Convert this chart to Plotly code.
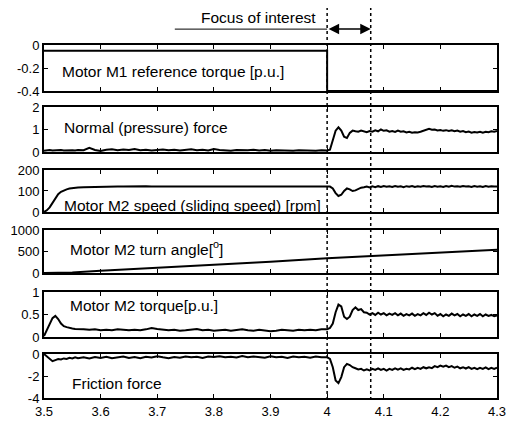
import numpy as np
import plotly.graph_objects as go
from plotly.subplots import make_subplots

# ---- time grid pieces (s) ----
t_a = np.round(np.arange(3.500, 3.5551, 0.005), 3)   # 12 pts
t_b = np.round(np.arange(3.56, 3.9951, 0.01), 3)     # 44 pts
t_c = np.round(np.arange(4.000, 4.3001, 0.005), 3)   # 61 pts
t = np.concatenate([t_a, t_b, t_c])

# ---- Motor M1 reference torque [p.u.] ----
t_ref = [3.5, 4.0, 4.0, 4.3]
ref_torque = [-0.05, -0.05, -0.4, -0.4]

# ---- Normal (pressure) force ----
force_a = [0.06, 0.08, 0.09, 0.07, 0.08, 0.1, 0.09, 0.07, 0.08, 0.1, 0.08, 0.07]
force_b = [0.09, 0.08, 0.19, 0.09, 0.05, 0.1, 0.12, 0.08, 0.11, 0.09,
           0.13, 0.08, 0.1, 0.07, 0.09, 0.11, 0.08, 0.1, 0.07, 0.09,
           0.12, 0.08, 0.1, 0.07, 0.13, 0.09, 0.08, 0.06, 0.09, 0.07,
           0.08, 0.1, 0.07, 0.09, 0.06, 0.08, 0.07, 0.09, 0.06, 0.08,
           0.07, 0.09, 0.06, 0.08]
force_c = [0.07, 0.1, 0.55, 0.95, 1.1, 0.95, 0.68, 0.62, 0.85, 0.95,
           0.92, 0.9, 0.95, 0.9, 0.88, 0.93, 0.9, 0.96, 0.92, 1.0,
           0.94, 0.96, 0.9, 0.93, 0.89, 0.95, 0.9, 0.92, 0.87, 0.9,
           0.86, 0.88, 0.87, 0.9, 0.95, 0.98, 1.03, 0.99, 1.0, 0.96,
           0.98, 0.94, 0.97, 0.93, 0.96, 0.92, 0.95, 0.9, 0.93, 0.88,
           0.91, 0.86, 0.89, 0.87, 0.9, 0.86, 0.9, 0.88, 0.92, 0.9,
           0.93]

# ---- Motor M2 speed [rpm] ----
speed_a = [0, 8, 22, 45, 68, 85, 96, 103, 108, 112, 114, 116]
speed_b = [117, 118, 119, 120, 120, 121, 121, 122, 121, 122,
           122, 121, 123, 122, 122, 123, 122, 121, 123, 122,
           122, 123, 122, 121, 123, 122, 122, 123, 121, 122,
           123, 122, 121, 123, 122, 122, 121, 123, 122, 122,
           121, 123, 122, 122]
speed_c = [122, 121, 112, 90, 76, 82, 100, 112, 108, 100,
           103, 110, 116, 118, 121, 117, 122, 118, 123, 119,
           124, 120, 123, 119, 124, 120, 122, 118, 123, 120,
           124, 119, 122, 120, 124, 121, 123, 119, 124, 120,
           122, 119, 124, 120, 125, 121, 123, 120, 124, 121,
           123, 119, 124, 120, 122, 119, 124, 120, 123, 121,
           122]

# ---- Motor M2 turn angle [deg] ----
t_angle = [3.5, 3.53, 3.55, 3.6, 3.7, 3.8, 3.9, 4.0, 4.1, 4.2, 4.3]
angle = [0, 4, 14, 50, 115, 180, 262, 345, 410, 475, 540]

# ---- Motor M2 torque [p.u.] ----
torque_a = [0.02, 0.15, 0.3, 0.42, 0.47, 0.4, 0.3, 0.24, 0.22, 0.2, 0.19, 0.18]
torque_b = [0.18, 0.17, 0.16, 0.17, 0.15, 0.16, 0.15, 0.17, 0.16, 0.15,
            0.16, 0.15, 0.17, 0.2, 0.18, 0.16, 0.15, 0.16, 0.14, 0.15,
            0.16, 0.18, 0.15, 0.16, 0.14, 0.15, 0.16, 0.14, 0.15, 0.17,
            0.15, 0.14, 0.16, 0.15, 0.13, 0.14, 0.16, 0.15, 0.14, 0.16,
            0.15, 0.16, 0.15, 0.17]
torque_c = [0.17, 0.2, 0.3, 0.55, 0.72, 0.68, 0.45, 0.4, 0.45, 0.6,
            0.66, 0.6, 0.62, 0.55, 0.54, 0.5, 0.53, 0.49, 0.54, 0.5,
            0.53, 0.48, 0.52, 0.49, 0.53, 0.48, 0.52, 0.47, 0.51, 0.48,
            0.52, 0.47, 0.51, 0.48, 0.53, 0.49, 0.54, 0.5, 0.53, 0.47,
            0.51, 0.46, 0.5, 0.47, 0.52, 0.48, 0.51, 0.46, 0.5, 0.47,
            0.51, 0.46, 0.5, 0.47, 0.51, 0.46, 0.5, 0.47, 0.49, 0.46,
            0.48]

# ---- Friction force ----
fric_a = [0, -0.2, -0.45, -0.65, -0.55, -0.45, -0.5, -0.4, -0.45, -0.35, -0.4, -0.3]
fric_b = [-0.38, -0.3, -0.4, -0.28, -0.35, -0.25, -0.38, -0.3, -0.22, -0.35,
          -0.28, -0.38, -0.25, -0.32, -0.2, -0.3, -0.38, -0.27, -0.33, -0.22,
          -0.3, -0.25, -0.35, -0.22, -0.28, -0.2, -0.3, -0.25, -0.32, -0.18,
          -0.3, -0.22, -0.28, -0.33, -0.2, -0.3, -0.25, -0.35, -0.22, -0.3,
          -0.26, -0.34, -0.22, -0.3]
fric_c = [-0.3, -0.45, -1.2, -2.4, -2.65, -2.1, -1.2, -0.9, -1.0, -1.2,
          -1.3, -1.4, -1.35, -1.5, -1.4, -1.5, -1.35, -1.45, -1.3, -1.45,
          -1.35, -1.5, -1.35, -1.45, -1.3, -1.42, -1.3, -1.45, -1.35, -1.4,
          -1.25, -1.38, -1.25, -1.35, -1.2, -1.3, -1.2, -1.28, -1.1, -1.2,
          -1.05, -1.15, -1.05, -1.2, -1.1, -1.25, -1.15, -1.3, -1.2, -1.32,
          -1.2, -1.35, -1.25, -1.38, -1.25, -1.35, -1.22, -1.38, -1.25, -1.35,
          -1.25]

force = force_a + force_b + force_c
speed = speed_a + speed_b + speed_c
torque = torque_a + torque_b + torque_c
fric = fric_a + fric_b + fric_c

labels = ["Motor M1 reference torque [p.u.]", "Normal (pressure) force",
          "Motor M2 speed (sliding speed) [rpm]", "Motor M2 turn angle[<sup>o</sup>]",
          "Motor M2 torque[p.u.]", "Friction force"]
label_pos = [(3.528, -0.232), (3.531, 1.1), (3.531, 33), (3.543, 580), (3.542, 0.69), (3.546, -2.64)]
y_ranges = [[-0.4, 0], [0, 2], [0, 200], [0, 1000], [0, 1], [-4, 0]]
y_ticks = [[0, -0.2, -0.4], [0, 1, 2], [0, 100, 200], [0, 500, 1000], [0, 0.5, 1], [0, -2, -4]]
y_ticktext = [["0", "-0.2", "-0.4"], ["0", "1", "2"], ["0", "100", "200"],
              ["0", "500", "1000"], ["0", "0.5", "1"], ["0", "-2", "-4"]]
x_ticks = [3.5, 3.6, 3.7, 3.8, 3.9, 4.0, 4.1, 4.2, 4.3]
x_ticktext = ["3.5", "3.6", "3.7", "3.8", "3.9", "4", "4.1", "4.2", "4.3"]
domains = [[0.8697, 1.0], [0.6969, 0.8244], [0.5269, 0.6459],
           [0.3541, 0.4759], [0.1728, 0.3003], [0.0, 0.1246]]

FONT = "Arial, 'Liberation Sans', sans-serif"

fig = make_subplots(rows=6, cols=1, shared_xaxes=True)
series = [(t_ref, ref_torque), (t, force), (t, speed), (t_angle, angle), (t, torque), (t, fric)]
for i, (xx, yy) in enumerate(series):
    fig.add_trace(go.Scatter(x=list(xx), y=yy, mode="lines",
                             line=dict(color="black", width=2), showlegend=False,
                             hoverinfo="skip"), row=i + 1, col=1)

for i in range(6):
    n = "" if i == 0 else str(i + 1)
    fig.layout["xaxis" + n].update(
        range=[3.5, 4.3], tickvals=x_ticks, ticktext=x_ticktext, automargin=False,
        showticklabels=(i == 5), ticks="inside", ticklen=4, tickwidth=1,
        tickcolor="black", mirror="allticks", showline=True, linecolor="black",
        linewidth=2, showgrid=False, zeroline=False, domain=[0, 1],
        tickfont=dict(family=FONT, size=13, color="black"))
    fig.layout["yaxis" + n].update(
        range=y_ranges[i], tickvals=y_ticks[i], ticktext=y_ticktext[i], automargin=False,
        ticks="inside", ticklen=4, tickwidth=1, tickcolor="black",
        mirror="allticks", showline=True, linecolor="black", linewidth=2,
        showgrid=False, zeroline=False, domain=domains[i],
        tickfont=dict(family=FONT, size=13, color="black"))
    xr = "x" if i == 0 else "x" + str(i + 1)
    yr = "y" if i == 0 else "y" + str(i + 1)
    fig.add_annotation(x=label_pos[i][0], y=label_pos[i][1], xref=xr, yref=yr,
                       text=labels[i], showarrow=False, xanchor="left", yanchor="middle",
                       font=dict(family=FONT, size=15.5, color="black"))

# Focus of interest markers
focus_start = 4.0
focus_end = 4.077
for xv in [focus_start, focus_end]:
    fig.add_shape(type="line", xref="x", yref="paper", x0=xv, x1=xv, y0=-0.006, y1=1.105,
                  line=dict(color="black", width=1.5, dash="dot"))
fig.add_shape(type="line", xref="x", yref="paper", x0=3.731, x1=focus_start, y0=1.045, y1=1.045,
              line=dict(color="black", width=1))
fig.add_annotation(x=focus_end, y=1.045, xref="x", yref="paper",
                   ax=focus_start, ay=0, axref="x", ayref="pixel",
                   text="", showarrow=True, arrowhead=2, startarrowhead=2,
                   arrowside="end+start", arrowsize=1.4, startarrowsize=1.4,
                   arrowwidth=1.5, arrowcolor="black")
fig.add_annotation(x=0.4746, y=1.079, xref="paper", yref="paper", text="Focus of interest",
                   showarrow=False, xanchor="center", yanchor="middle",
                   font=dict(family=FONT, size=15.5, color="black"))

fig.update_layout(width=511, height=421, margin=dict(l=44, r=14, t=45, b=23),
                  plot_bgcolor="white", paper_bgcolor="white",
                  font=dict(family=FONT, color="black"))

fig.write_html("out.html", config={"displayModeBar": False},
               post_script="document.body.style.margin='0';document.body.style.overflow='hidden';")
